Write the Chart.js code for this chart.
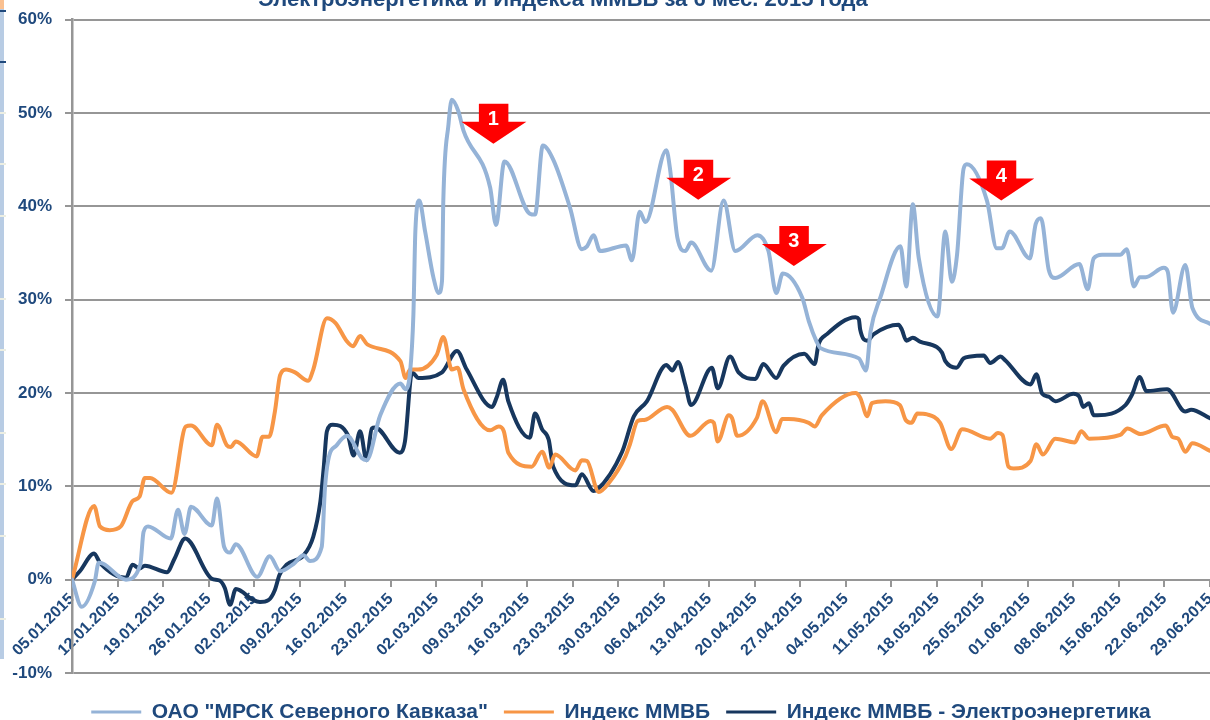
<!DOCTYPE html>
<html lang="ru">
<head>
<meta charset="utf-8">
<title>МРСК Северного Кавказа</title>
<script src="https://cdn.jsdelivr.net/npm/chart.js@4"></script>
<style>
  html, body { margin: 0; background: #fff; overflow: hidden; }
  #wrap { position: relative; width: 1210px; height: 720px; overflow: hidden; }
  #strip { position: absolute; left: 0; top: 0; width: 4px; height: 659px; background: #b8cce4; }
  #stripTop { position: absolute; left: 0; top: 0; width: 4px; height: 9px; background: #fac090; }
  .mark { position: absolute; left: 0; width: 6px; height: 2px; background: #eceee2; }
  #title { position: absolute; left: 0; width: 1126px; top: -14px; text-align: center; color: #1f497d;
           font: bold 22px "Liberation Sans", sans-serif; white-space: nowrap; }
  canvas { position: absolute; left: 0; top: 0; }
</style>
</head>
<body>
<div id="wrap">
  <canvas id="chart" width="1210" height="720"></canvas>
  <div id="strip"></div><div id="stripTop"></div>
  <div id="title">Электроэнергетика и Индекса ММВБ за 6 мес. 2015 года</div>
</div>
<script>
// days since 05.01.2015 + value in %
const tickLabels = ['05.01.2015','12.01.2015','19.01.2015','26.01.2015','02.02.2015','09.02.2015','16.02.2015','23.02.2015','02.03.2015','09.03.2015','16.03.2015','23.03.2015','30.03.2015','06.04.2015','13.04.2015','20.04.2015','27.04.2015','04.05.2015','11.05.2015','18.05.2015','25.05.2015','01.06.2015','08.06.2015','15.06.2015','22.06.2015','29.06.2015'];

const mrskDays = [0,1.5,3.5,4.1,4.8,8.3,10.5,11,11.7,15.2,16.3,17.3,18.3,21.5,22.3,23.4,24.3,25.2,28.5,30.4,32,34.1,35.6,36.6,38.4,38.9,39.4,40.7,42.3,44.6,45.3,47.4,50.5,51.3,52,52.5,52.8,53.4,54.3,55.6,56.4,56.9,57.1,57.9,58.4,59.4,60.2,64.3,65.2,66.5,70.4,71.2,72.4,74,76.6,78.4,79.2,80.2,81.2,85.2,86.1,87.3,88.2,91.4,92,93.1,94.3,95.2,98.3,100.2,102,105.4,107.1,108.3,109.3,112.3,113.3,114.5,115.1,121,122.1,122.8,124.3,127.4,128.3,129.3,130.2,133.1,134.3,135.3,136.1,137.1,137.6,140.7,142.2,143,144.2,147.3,148.2,149,150.2,151.2,154.9,156.2,157.1,158.4,161.2,162.2,163.3,164.2,165.1,167.9,168.5,169.3,171.2,172.3,175];
const mrskValues = [0,-2.9,-0.2,1.8,1.7,0,1.6,5.1,5.7,4.4,7.5,4.9,7.8,5.8,8.7,3.5,2.9,3.8,0.3,2.5,0.9,1.7,2.6,2,3.5,9.8,12.8,14.4,15.4,13,12.8,17.6,21,20.4,22.3,28.4,37.3,40.6,37.3,32.3,30.7,32,40.6,48.8,51.4,50.2,48.1,42,38,44.8,39.2,39.1,46.5,45,39.8,35.4,35.7,36.9,35.2,35.8,34.2,39.4,38.3,46,43.8,36.6,35.2,36.1,33.1,40.6,35.2,36.9,35.2,30.7,32.8,30.2,27.7,25.5,24.8,23.7,22.4,26.6,30.2,35.7,31.4,40.2,34.5,28.2,37.3,31.9,34.8,44,44.5,40.6,35.5,35.5,37.3,34.4,38.1,38.7,33.2,32.3,33.8,31.1,34.4,34.8,34.8,35.4,31.4,32.4,32.4,33.4,33,28.6,33.7,29.1,27.4];

const micexDays = [0,3.4,4.3,5.8,7.5,9.3,10.4,11.2,12,15.3,17.5,18.3,21.5,22.3,23.8,24.4,25.2,28.4,29.3,30.3,31.2,32,32.9,34.3,36.3,37.1,39.2,40.5,42.3,43.2,44.3,45.4,50.5,51.3,52,53.2,56.1,57.1,58.4,59.3,60.2,64.3,65.6,66.4,67.1,70.7,72.3,73.4,74.3,77.4,78.4,79.2,81,82.5,85.1,85.8,87,88,91.5,92.3,95.1,98.2,98.7,99.3,101,101.5,102.3,105.3,106.2,108.3,109.2,110.2,113.3,114.2,115.3,120.5,121.2,122.3,123,125.1,127.3,128.2,129.1,130,131.5,133.5,135.2,136.9,141.2,142.4,143.1,144,144.8,147.4,148.3,149.3,151.2,154.2,155.2,156.4,161.2,162.3,164.3,168.2,169.2,170.1,171.2,172.3,175];
const micexValues = [0,7.9,5.7,5.3,5.7,8.4,8.9,10.9,10.9,9.3,16.4,16.5,14.4,16.6,14.4,14.2,14.8,13.2,15.3,15.3,18,21.9,22.5,22.2,21.3,22.5,28,27.5,25.5,25,26.1,25.2,23.4,21.6,22.5,22.5,24.1,26,22.5,22.7,20.4,16,16.4,15.9,13.6,12.1,13.7,12,13.4,11.7,12.8,12.7,9.4,10.3,13.2,14.5,17,17.1,18.5,18.2,15.4,17,16.8,14.8,17.6,17.3,15.4,17.3,19.1,15.8,17.2,17.2,16.8,16.4,17.6,20,19.5,17.5,18.9,19.1,18.7,17.1,16.8,17.8,17.7,16.8,14,16.1,15.1,15.7,15.5,12.1,11.9,12.7,14.5,13.4,15.1,14.7,15.9,15.1,15.5,16.2,15.6,16.5,15.3,15.1,13.7,14.6,13.8];

const powerDays = [0,1.2,3.4,4.3,8.3,9.3,10.4,11.2,14.6,15.8,17.4,21.5,22.7,23.5,24.3,25.2,27.9,28.9,30.2,31.2,31.9,33,35.6,37.1,38.2,38.7,39.2,40.1,42.4,43.3,44.3,45.3,46.1,46.6,50.4,51.2,52.3,53.3,56.9,59.2,60.7,64.6,65.3,66.3,67.1,70.4,71.2,72.3,73.3,74,77.4,78.4,80.2,80.7,84.6,86.4,88.4,91.4,92.3,93.2,94.3,95.2,98.4,99.3,101.2,102.5,105.1,106.3,108.3,109.4,112.6,114.2,114.8,116.1,120.5,121,121.2,122.3,123.3,127.1,127.6,128.3,129.3,130.4,133,133.8,134.3,136,137.1,138.2,140.2,141.2,142.8,143.5,147.4,148.3,149.2,150.2,151.2,154,154.9,155.5,156.4,157.1,157.7,162,163,164.2,165.2,168.4,171.2,172.1,175];
const powerValues = [0,0.9,2.8,1.8,0.2,1.6,1.2,1.5,0.8,2.3,4.4,0.1,-0.1,-0.9,-2.7,-1,-2.2,-2.4,-2.2,-1.1,0.5,1.6,2.6,4.6,8.4,11.9,15.9,16.6,15.5,13.3,15.9,12.8,16.2,16.3,13.6,14.8,22.2,21.6,22.2,24.5,22.5,18.5,19.5,21.4,19.1,15.2,17.8,16.1,15,12.1,10.1,11.3,9.5,9.6,13.7,17.5,19.1,23,22.4,23.3,20.9,18.7,22.7,20.5,23.9,22.2,21.5,23.1,21.6,22.9,24.2,23.1,25.2,26.3,28.1,27.9,26.8,25.6,26.3,27.3,26.8,25.6,25.9,25.5,24.9,24.3,23.4,22.7,23.7,23.9,24,23.2,23.9,23.5,20.9,22,19.9,19.6,19.1,19.9,19.6,18.5,18.9,17.6,17.6,18.7,19.8,21.7,20.2,20.4,18,18.2,17.3];

const arrowDays = [64.8, 96.3, 111, 142.9];
const arrowValues = [46.7, 40.7, 33.6, 40.6];
const arrowLabels = ['1', '2', '3', '4'];

const NAVY = '#1f497d';
const FONT = '"Liberation Sans", sans-serif';
const pairs = (days, vals) => days.map((d, i) => ({ x: d, y: vals[i] }));

function series(label, days, vals, color) {
  return {
    label: label,
    data: pairs(days, vals),
    borderColor: color,
    backgroundColor: color,
    borderWidth: 4,
    pointRadius: 0,
    cubicInterpolationMode: 'monotone',
    borderCapStyle: 'round',
    borderJoinStyle: 'round'
  };
}

// red numbered arrows go on top of the lines
const arrowsPlugin = {
  id: 'arrows',
  afterDatasetsDraw(chart) {
    const { ctx, scales } = chart;
    ctx.save();
    arrowDays.forEach((d, i) => {
      const x = scales.x.getPixelForValue(d);
      const y = scales.y.getPixelForValue(arrowValues[i]);
      ctx.fillStyle = '#ff0000';
      ctx.beginPath();
      ctx.moveTo(x, y);
      ctx.lineTo(x - 32, y - 22);
      ctx.lineTo(x - 14.5, y - 22);
      ctx.lineTo(x - 14.5, y - 40);
      ctx.lineTo(x + 15, y - 40);
      ctx.lineTo(x + 15, y - 22);
      ctx.lineTo(x + 33, y - 22);
      ctx.closePath();
      ctx.fill();
      ctx.fillStyle = '#fff';
      ctx.font = 'bold 20px ' + FONT;
      ctx.textAlign = 'center';
      ctx.textBaseline = 'middle';
      ctx.fillText(arrowLabels[i], x, y - 24);
    });
    ctx.restore();
  }
};

// legend text sits lower and further right than the default box allows
const legendShift = {
  id: 'legendShift',
  afterLayout(chart) {
    chart.legend.top += 12.5;
    chart.legend.bottom += 12.5;
    chart.legend.left += 16;
    chart.legend.right += 16;
  }
};

new Chart(document.getElementById('chart'), {
  type: 'line',
  data: {
    datasets: [
      series('ОАО "МРСК Северного Кавказа"', mrskDays, mrskValues, '#95b3d7'),
      series('Индекс ММВБ', micexDays, micexValues, '#f79646'),
      series('Индекс ММВБ - Электроэнергетика', powerDays, powerValues, '#17375e')
    ]
  },
  plugins: [arrowsPlugin, legendShift],
  options: {
    responsive: false,
    animation: false,
    layout: { padding: { top: 19.5, right: 0, bottom: 0, left: 0 } },
    plugins: {
      title: { display: false },
      tooltip: { enabled: false },
      legend: {
        position: 'bottom',
        labels: {
          boxWidth: 50,
          boxHeight: 3,
          padding: 16,
          color: NAVY,
          font: { family: FONT, size: 21, weight: 'bold' },
          generateLabels(chart) {
            return Chart.defaults.plugins.legend.labels.generateLabels(chart).map(l => ({ ...l, lineWidth: 0 }));
          }
        }
      }
    },
    scales: {
      x: {
        type: 'linear',
        position: { y: 0 },
        min: 0,
        max: 175,
        afterFit(s) { s.paddingLeft = 0; s.paddingRight = 0; },
        afterBuildTicks(s) {
          s.ticks = tickLabels.map((_, i) => ({ value: i * 7 }));
        },
        grid: { drawOnChartArea: false, drawTicks: true, tickLength: 6, color: '#969696', lineWidth: 2 },
        border: { color: '#969696', width: 2 },
        ticks: {
          autoSkip: false,
          minRotation: 45,
          maxRotation: 45,
          padding: 4,
          color: NAVY,
          font: { family: FONT, size: 16, weight: 'bold' },
          callback: (v) => tickLabels[v / 7]
        }
      },
      y: {
        min: -10,
        max: 60,
        afterFit(s) { s.width = 72; s.paddingTop = 0; s.paddingBottom = 0; },
        grid: { color: '#969696', lineWidth: 2, tickLength: 7 },
        border: { color: '#969696', width: 2.5 },
        ticks: {
          stepSize: 10,
          padding: 13,
          color: NAVY,
          font: { family: FONT, size: 17, weight: 'bold' },
          callback: (v) => v + '%'
        }
      }
    }
  }
});

// small marks on the slide strip at the far left
[11, 62].forEach(y => addMark(y, '#1f497d'));
[113, 164, 216, 299, 350, 433, 484, 536, 619].forEach(y => addMark(y, '#eceee2'));
function addMark(y, color) {
  const m = document.createElement('div');
  m.className = 'mark';
  m.style.top = y - 1 + 'px';
  m.style.background = color;
  document.getElementById('wrap').appendChild(m);
}
</script>
</body>
</html>
